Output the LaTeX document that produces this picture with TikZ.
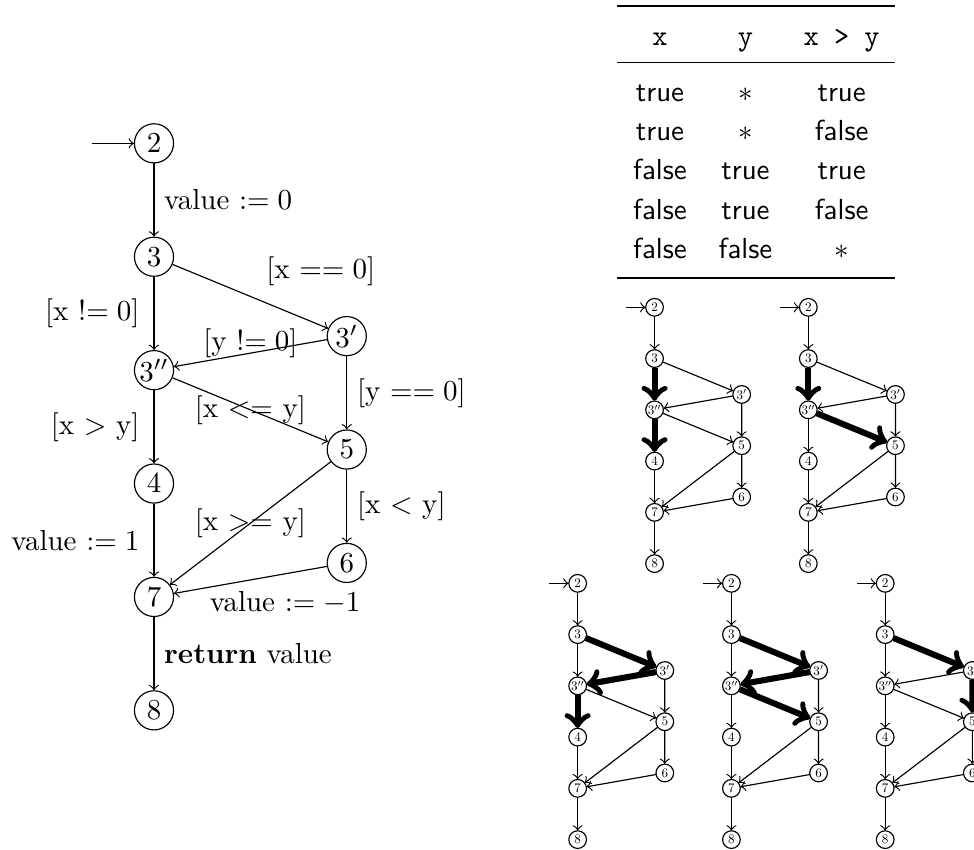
\documentclass[tikz,border=0pt]{standalone}
\usepackage{amsmath}
\usepackage{tikz}
\usetikzlibrary{positioning}

% edges that can be highlighted in the small copies
\tikzset{
    p33a/.style={}, p33b/.style={}, p3a3b/.style={},
    p3a5/.style={}, p3b4/.style={}, p3b5/.style={}
}

\newcommand{\minicfg}[3]{%
  \begin{scope}[shift={#2}, scale=0.452, transform shape, #3]
    \node[loc] (#1-2) at (0,0) {$2$};
    \node[loc] (#1-3) at (0,-1) {$3$};
    \node[loc] (#1-3a) at (1.7,-1.7) {$3'$};
    \node[loc] (#1-3b) at (0,-2) {$3''$};
    \node[loc] (#1-5) at (1.7,-2.7) {$5$};
    \node[loc] (#1-4) at (0,-3) {$4$};
    \node[loc] (#1-6) at (1.7,-3.7) {$6$};
    \node[loc] (#1-7) at (0,-4) {$7$};
    \node[loc] (#1-8) at (0,-5) {$8$};
    \coordinate (#1-in) at (-0.55,0);

    \draw[->] (#1-in) -- (#1-2);
    \draw[->] (#1-2) -- (#1-3);
    \draw[->, p33b] (#1-3) -- (#1-3b);
    \draw[->, p33a] (#1-3) -- (#1-3a);
    \draw[->, p3a3b] (#1-3a) -- (#1-3b);
    \draw[->, p3a5] (#1-3a) -- (#1-5);
    \draw[->, p3b5] (#1-3b) -- (#1-5);
    \draw[->, p3b4] (#1-3b) -- (#1-4);
    \draw[->] (#1-5) -- (#1-7);
    \draw[->] (#1-5) -- (#1-6);
    \draw[->] (#1-4) -- (#1-7);
    \draw[->] (#1-6) -- (#1-7);
    \draw[->] (#1-7) -- (#1-8);
  \end{scope}}

\begin{document}
\begin{tikzpicture}[
    x=1.375cm, y=1.375cm,
    loc/.style={draw, circle, inner sep=0pt, minimum size=13.5pt},
    hot/.style={line width=2.1pt},
    head/.style={anchor=base, font=\ttfamily},
    cell/.style={anchor=base, font=\sffamily}
]
    \useasboundingbox (-1.358,-6.223) rectangle (7.231,1.264);

    % control flow graph
    \node[loc] (n2) at (0,0) {$2$};
    \node[loc] (n3) at (0,-1) {$3$};
    \node[loc] (n3a) at (1.7,-1.7) {$3'$};
    \node[loc] (n3b) at (0,-2) {$3''$};
    \node[loc] (n5) at (1.7,-2.7) {$5$};
    \node[loc] (n4) at (0,-3) {$4$};
    \node[loc] (n6) at (1.7,-3.7) {$6$};
    \node[loc] (n7) at (0,-4) {$7$};
    \node[loc] (n8) at (0,-5) {$8$};
    \coordinate (in) at (-0.55,0);

    \draw[->] (in) -- (n2);
    \draw[->] (n2) -- node[right] {value $:= 0$} (n3);
    \draw[->] (n3) -- node[left=1.5pt] {[x !$= 0$]} (n3b);
    \draw[->] (n3) -- node[above right, xshift=2pt] {[x $== 0$]} (n3a);
    \draw[->] (n3a) -- node[yshift=3.4pt] {[y !$= 0$]} (n3b);
    \draw[->] (n3a) -- node[right] {[y $== 0$]} (n5);
    \draw[->] (n3b) -- node {[x $<=$ y]} (n5);
    \draw[->] (n3b) -- node[left=1.5pt] {[x $>$ y]} (n4);
    \draw[->] (n5) -- node {[x $>=$ y]} (n7);
    \draw[->] (n5) -- node[right] {[x $<$ y]} (n6);
    \draw[->] (n4) -- node[left=1.5pt] {value $:= 1$} (n7);
    \draw[->] (n6) -- node[xshift=12pt, yshift=-8pt] {value $:= -1$} (n7);
    \draw[->] (n7) -- node[right] {\textbf{return} value} (n8);

    % truth table
    \draw[line width=0.8pt] (4.080,1.211) -- (6.534,1.211);
    \draw[line width=0.5pt] (4.080,0.714) -- (6.534,0.714);
    \draw[line width=0.8pt] (4.080,-1.185) -- (6.534,-1.185);
    \node[head] (hx) at (4.462,0.867) {x};
    \node[head] (hy) at (5.216,0.867) {y};
    \node[head] (hxy) at (6.064,0.867) {x > y};
    \foreach \a/\b/\c [count=\i] in {true/$*$/true, true/$*$/false,
        false/true/true, false/true/false, false/false/$*$} {
        \node[cell] (r\i x) at (4.462,0.712-0.345*\i) {\a};
        \node[cell] (r\i y) at (5.216,0.712-0.345*\i) {\b};
        \node[cell] (r\i xy) at (6.064,0.712-0.345*\i) {\c};
    }

    % covered paths
    \minicfg{a}{(4.414,-1.446)}{p33b/.style=hot, p3b4/.style=hot}
    \minicfg{b}{(5.770,-1.446)}{p33b/.style=hot, p3b5/.style=hot}
    \minicfg{c}{(3.736,-3.880)}{p33a/.style=hot, p3a3b/.style=hot, p3b4/.style=hot}
    \minicfg{d}{(5.092,-3.880)}{p33a/.style=hot, p3a3b/.style=hot, p3b5/.style=hot}
    \minicfg{e}{(6.448,-3.880)}{p33a/.style=hot, p3a5/.style=hot}
\end{tikzpicture}
\end{document}
